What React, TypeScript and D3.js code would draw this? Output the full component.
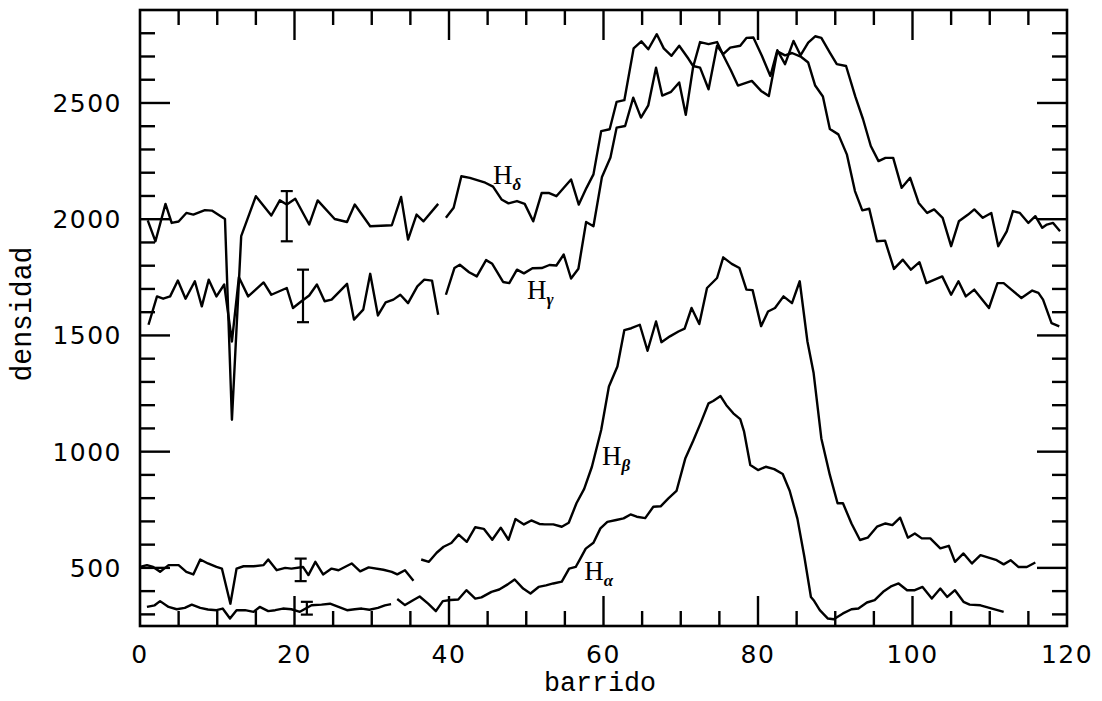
import React from "react";
import * as d3 from "d3";

type P = [number, number];

// ---- axis settings (values) ----
const xDomain: [number, number] = [0, 120];
const yDomain: [number, number] = [250, 2900];
const xTickLabels = [0, 20, 40, 60, 80, 100, 120];
const yTickLabels = [500, 1000, 1500, 2000, 2500];
const xTitle = "barrido";
const yTitle = "densidad";

// ---- H-delta ----
const hDelta1: P[] = [
  [1.0, 1995], [2.0, 1905], [3.3, 2066], [4.1, 1984], [5.0, 1990], [6.0, 2027], [6.9, 2020],
  [8.4, 2039], [9.3, 2037], [10.1, 2020], [11.0, 2001], [11.9, 1137], [13.1, 1927], [15.0, 2099],
  [17.0, 2016], [18.1, 2081], [19.0, 2063], [20.1, 2088], [21.9, 1977], [23.0, 2081], [25.2, 2001],
  [26.8, 1988], [27.8, 2063], [29.8, 1970], [32.6, 1974], [33.8, 2096], [34.7, 1912], [35.8, 2020],
  [36.7, 1991], [38.6, 2066],
];
const hDelta2: P[] = [
  [39.6, 2006], [40.6, 2049], [41.6, 2185], [42.7, 2178], [44.7, 2157], [45.7, 2140], [46.8, 2085],
  [47.7, 2068], [48.8, 2078], [49.8, 2066], [50.9, 1991], [52.0, 2113], [52.9, 2113], [53.9, 2099],
  [55.8, 2171], [56.8, 2063], [57.8, 2135], [58.7, 2193], [59.7, 2379], [60.8, 2387], [61.7, 2505],
  [62.7, 2512], [63.9, 2735], [64.9, 2765], [65.8, 2731], [66.9, 2796], [67.8, 2735], [68.8, 2703],
  [69.8, 2746], [71.0, 2690], [71.6, 2659], [72.5, 2652], [73.6, 2559], [74.7, 2746], [75.5, 2710],
  [76.4, 2738], [77.7, 2746], [78.5, 2780], [79.4, 2782], [80.5, 2703], [81.6, 2616], [82.5, 2727],
  [83.5, 2667], [84.6, 2767], [85.5, 2705], [86.5, 2760], [87.4, 2787], [88.2, 2780], [89.3, 2717],
  [90.2, 2667], [91.4, 2659], [92.6, 2527], [93.6, 2430], [94.6, 2315], [95.6, 2250], [96.5, 2264],
  [97.5, 2264], [98.6, 2135], [99.7, 2178], [100.8, 2070], [101.9, 2027], [102.8, 2042], [103.9, 2006],
  [105.0, 1884], [106.0, 1991], [107.2, 2020], [108.0, 2042], [109.1, 2006], [110.2, 2027],
  [111.1, 1884], [112.2, 1948], [113.0, 2035], [113.9, 2027], [115.0, 1984], [115.9, 2013],
  [116.8, 1963], [117.4, 1977], [118.2, 1984], [119.1, 1948],
];

// ---- H-gamma ----
const hGamma1: P[] = [
  [1.1, 1546], [2.2, 1668], [3.0, 1658], [3.9, 1668], [4.9, 1736], [5.9, 1658], [7.1, 1733],
  [8.0, 1625], [8.9, 1740], [9.9, 1668], [10.9, 1719], [11.9, 1474], [12.8, 1750], [14.0, 1668],
  [16.0, 1728], [17.0, 1675], [19.0, 1704], [19.8, 1618], [20.9, 1647], [21.9, 1672], [22.9, 1719],
  [23.9, 1647], [24.8, 1654], [26.8, 1722], [27.7, 1568], [28.9, 1611], [29.8, 1765], [30.8, 1586],
  [31.8, 1642], [32.8, 1654], [33.7, 1675], [34.7, 1639], [35.9, 1711], [36.8, 1740], [37.8, 1736],
  [38.6, 1589],
];
const hGamma2: P[] = [
  [39.6, 1675], [40.7, 1790], [41.4, 1804], [42.6, 1772], [43.6, 1754], [44.8, 1824], [45.6, 1808],
  [47.0, 1730], [47.8, 1725], [48.8, 1783], [49.7, 1767], [50.8, 1789], [52.0, 1790], [53.0, 1803],
  [53.9, 1801], [54.85, 1848], [55.8, 1745], [56.75, 1787], [57.75, 1988], [58.7, 1970],
  [59.8, 2182], [60.9, 2265], [61.7, 2394], [62.8, 2401], [63.85, 2523], [64.85, 2437],
  [65.8, 2490], [66.8, 2652], [67.6, 2532], [68.75, 2548], [69.8, 2588], [70.65, 2449],
  [71.6, 2655], [72.5, 2762], [73.6, 2753], [74.7, 2762], [75.5, 2705], [76.5, 2640], [77.4, 2575],
  [79.2, 2595], [80.4, 2552], [81.4, 2530], [82.5, 2722], [83.5, 2705], [84.4, 2715], [85.6, 2698],
  [86.5, 2674], [87.4, 2575], [88.4, 2528], [89.3, 2388], [90.4, 2365], [91.5, 2279],
  [92.55, 2121], [93.5, 2038], [94.4, 2045], [95.4, 1905], [96.45, 1908], [97.6, 1786],
  [98.75, 1826], [99.8, 1783], [100.9, 1815], [101.8, 1725], [103.85, 1754], [105.0, 1675],
  [105.95, 1733], [106.9, 1668], [108.0, 1697], [109.9, 1618], [111.0, 1725], [111.8, 1725],
  [112.8, 1697], [114.1, 1661], [115.5, 1693], [116.3, 1683], [116.9, 1654], [118.0, 1553],
  [119.0, 1539],
];

// ---- H-beta ----
const hBeta1: P[] = [
  [0.0, 504], [0.9, 512], [1.7, 504], [2.6, 483], [3.7, 512], [5.0, 512], [6.0, 483], [6.9, 472],
  [7.8, 536], [8.8, 519], [9.9, 504], [10.6, 497], [11.7, 346], [12.5, 497], [13.4, 507],
  [14.7, 507], [16.0, 512], [16.6, 536], [17.7, 490], [18.8, 500], [19.6, 497], [21.1, 504],
  [21.8, 469], [22.7, 526], [23.7, 472], [24.8, 497], [25.7, 490], [27.4, 519], [28.5, 485],
  [29.6, 502], [31.5, 492], [32.6, 483], [33.3, 472], [34.3, 490], [35.4, 445],
];
const hBeta2: P[] = [
  [36.4, 536], [37.4, 526], [38.4, 565], [39.3, 591], [40.3, 607], [41.25, 643], [42.3, 612],
  [43.4, 675], [44.5, 668], [45.6, 621], [46.7, 673], [47.7, 621], [48.6, 710], [49.7, 687],
  [50.65, 704], [51.7, 689], [52.4, 687], [53.5, 687], [54.6, 677], [55.5, 694], [56.5, 778],
  [57.5, 840], [58.5, 935], [59.7, 1093], [60.7, 1280], [61.8, 1366], [62.7, 1523], [63.6, 1531],
  [64.7, 1546], [65.7, 1434], [66.8, 1560], [67.5, 1471], [68.6, 1496], [69.7, 1517], [70.5, 1529],
  [71.4, 1618], [72.4, 1549], [73.4, 1704], [74.7, 1747], [75.5, 1836], [76.6, 1808], [77.6, 1790],
  [78.5, 1697], [79.3, 1695], [80.4, 1540], [81.3, 1603], [82.2, 1618], [83.3, 1668], [84.4, 1639],
  [85.4, 1733], [86.4, 1474], [87.2, 1338], [88.2, 1057], [89.3, 900], [90.3, 778], [91.0, 778],
  [92.1, 691], [93.2, 620], [94.2, 630], [95.4, 677], [96.5, 691], [97.4, 684], [98.4, 716],
  [99.4, 630], [100.3, 648], [101.2, 627], [102.3, 627], [103.6, 584], [104.7, 595], [105.5, 526],
  [106.6, 562], [107.7, 519], [108.8, 555], [110.9, 533], [111.8, 515], [112.7, 533], [113.7, 504],
  [114.8, 504], [115.9, 523],
];

// ---- H-alpha ----
const hAlpha1: P[] = [
  [0.9, 332], [1.9, 339], [2.6, 357], [3.7, 332], [4.75, 322], [5.8, 328], [6.7, 342], [7.8, 328],
  [8.8, 321], [9.9, 318], [10.7, 325], [11.65, 282], [12.5, 318], [13.6, 318], [14.7, 311],
  [15.5, 332], [16.6, 314], [17.5, 318], [18.5, 325], [19.6, 322], [20.7, 311], [22.2, 339],
  [23.5, 342], [24.6, 346], [25.7, 332], [26.8, 318], [27.8, 322], [28.7, 325], [29.7, 320],
  [30.8, 328], [31.7, 339], [32.5, 344],
];
const hAlpha2: P[] = [
  [33.3, 366], [34.3, 340], [35.4, 362], [36.2, 377], [37.3, 346], [38.3, 314], [39.2, 357],
  [40.2, 362], [41.2, 364], [42.25, 404], [43.4, 368], [44.2, 373], [45.5, 397], [46.5, 407],
  [47.6, 429], [48.5, 450], [49.6, 411], [50.55, 390], [51.6, 418], [52.55, 425], [53.5, 433],
  [54.6, 441], [55.55, 497], [56.4, 504], [57.0, 540], [57.7, 583], [58.7, 608], [59.6, 670],
  [60.5, 698], [61.65, 706], [62.6, 713], [63.5, 730], [64.3, 720], [65.4, 714], [66.45, 763],
  [67.4, 765], [68.4, 799], [69.45, 831], [70.6, 972], [71.6, 1046], [72.6, 1125], [73.6, 1208],
  [74.2, 1218], [75.15, 1239], [75.9, 1200], [76.8, 1165], [77.7, 1140], [78.2, 1086], [79.0, 943],
  [80.0, 921], [81.0, 935], [82.1, 925], [83.2, 904], [84.1, 832], [85.1, 712], [86.0, 548],
  [86.85, 375], [87.2, 361], [88.0, 318], [89.05, 282], [89.8, 279], [91.0, 304], [92.1, 322],
  [93.0, 325], [94.1, 351], [95.1, 361], [96.2, 397], [97.3, 422], [98.2, 433], [99.3, 404],
  [100.3, 404], [101.3, 418], [102.5, 368], [103.6, 411], [104.5, 375], [105.5, 404], [106.6, 354],
  [107.4, 342], [108.8, 339], [110.3, 325], [111.8, 311],
];

const segments: P[][] = [hDelta1, hDelta2, hGamma1, hGamma2, hBeta1, hBeta2, hAlpha1, hAlpha2];

// ---- error bars ----
const errBarX = [19.0, 21.1, 20.8, 21.6];
const errBarLow = [1905, 1557, 443, 299];
const errBarHigh = [2121, 1783, 540, 354];

// ---- curve labels ----
const labelSub = ["δ", "γ", "β", "α"];
const labelX = [45.7, 50.1, 59.8, 57.5];
const labelY = [2151, 1655, 944, 448];

export default function App() {
  const x = d3.scaleLinear().domain(xDomain).range([140, 1067]);
  const y = d3.scaleLinear().domain(yDomain).range([626, 10]);
  const line = d3
    .line<P>()
    .x((d) => x(d[0]))
    .y((d) => y(d[1]));

  const xTicks = d3.range(5, 120, 5);
  const yTicks = d3.range(300, 2900, 100);
  const x0 = x(xDomain[0]);
  const x1 = x(xDomain[1]);
  const yTop = y(yDomain[1]);
  const yBot = y(yDomain[0]);

  const tickFont = "'DejaVu Sans', sans-serif";
  const titleFont = "'Liberation Mono', 'Courier New', monospace";

  return (
    <svg
      width={1102}
      height={701}
      style={{ position: "absolute", left: 0, top: 0, background: "#fff" }}
    >
      <rect x={0} y={0} width={1102} height={701} fill="#fff" />
      {/* data lines */}
      <g fill="none" stroke="#000" strokeWidth={2.4} strokeLinejoin="round">
        {segments.map((s, i) => (
          <path key={i} d={line(s) || ""} />
        ))}
      </g>
      {/* error bars */}
      <g stroke="#000" strokeWidth={2.2}>
        {errBarX.map((v, i) => (
          <g key={i}>
            <line x1={x(v)} x2={x(v)} y1={y(errBarLow[i])} y2={y(errBarHigh[i])} />
            <line x1={x(v) - 6} x2={x(v) + 6} y1={y(errBarLow[i])} y2={y(errBarLow[i])} />
            <line x1={x(v) - 6} x2={x(v) + 6} y1={y(errBarHigh[i])} y2={y(errBarHigh[i])} />
          </g>
        ))}
      </g>
      {/* frame */}
      <rect
        x={x0}
        y={yTop}
        width={x1 - x0}
        height={yBot - yTop}
        fill="none"
        stroke="#000"
        strokeWidth={2.6}
      />
      {/* ticks */}
      <g stroke="#000" strokeWidth={2.4}>
        {xTicks.map((t) => {
          const len = t % 20 === 0 ? 30 : 15;
          return (
            <g key={"x" + t}>
              <line x1={x(t)} x2={x(t)} y1={yBot} y2={yBot - len} />
              <line x1={x(t)} x2={x(t)} y1={yTop} y2={yTop + len} />
            </g>
          );
        })}
        {yTicks.map((t) => {
          const len = t % 500 === 0 ? 30 : 15;
          return (
            <g key={"y" + t}>
              <line x1={x0} x2={x0 + len} y1={y(t)} y2={y(t)} />
              <line x1={x1} x2={x1 - len} y1={y(t)} y2={y(t)} />
            </g>
          );
        })}
      </g>
      {/* tick labels */}
      <g fontFamily={tickFont} fontSize={25} fill="#000">
        {xTickLabels.map((t) => (
          <text key={"xl" + t} x={x(t)} y={663} textAnchor="middle" letterSpacing={1.5}>
            {String(t)}
          </text>
        ))}
        {yTickLabels.map((t) => (
          <text key={"yl" + t} x={122} y={y(t) + 9} textAnchor="end" letterSpacing={1.5}>
            {String(t)}
          </text>
        ))}
      </g>
      {/* axis titles */}
      <text
        x={600}
        y={691}
        fontFamily={titleFont}
        fontSize={27}
        textAnchor="middle"
        textLength={112}
        lengthAdjust="spacingAndGlyphs"
      >
        {xTitle}
      </text>
      <text
        transform={`translate(31,314) rotate(-90)`}
        fontFamily={titleFont}
        fontSize={30}
        textAnchor="middle"
        textLength={135}
        lengthAdjust="spacingAndGlyphs"
      >
        {yTitle}
      </text>
      {/* curve labels */}
      {labelSub.map((s, i) => (
        <text
          key={"lab" + i}
          x={x(labelX[i])}
          y={y(labelY[i])}
          fontFamily="'Liberation Serif', 'Times New Roman', serif"
          fontSize={27}
          fill="#000"
        >
          H
          <tspan dy={6} fontSize={17} fontStyle="italic" fontWeight="bold">
            {s}
          </tspan>
        </text>
      ))}
    </svg>
  );
}
